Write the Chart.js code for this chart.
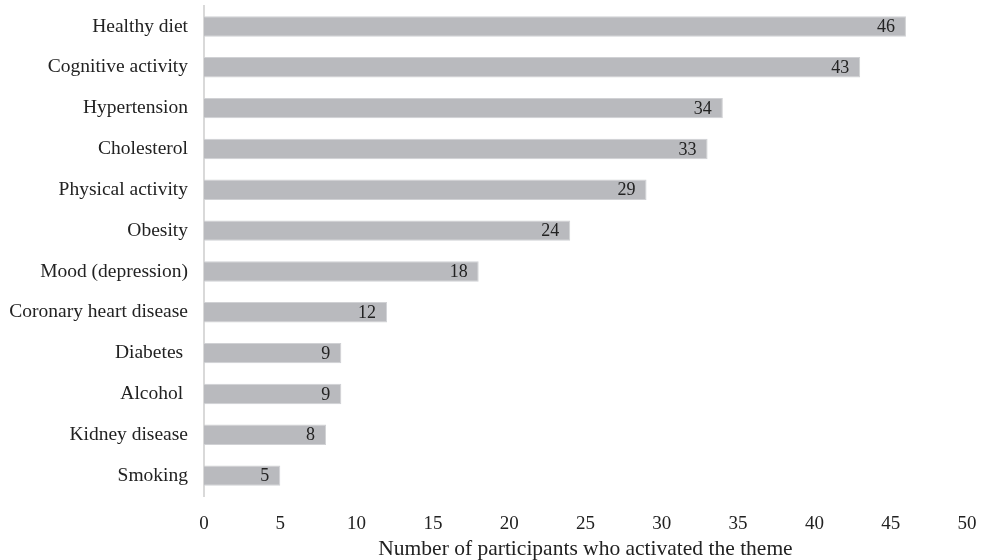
<!DOCTYPE html>
<html>
<head>
<meta charset="utf-8">
<script src="https://cdn.jsdelivr.net/npm/chart.js@4.4.0/dist/chart.umd.min.js"></script>
<style>
  html, body { margin: 0; padding: 0; background: #fff; }
  #wrap { width: 984px; height: 560px; }
</style>
</head>
<body>
<div id="wrap"><canvas id="themeChart" width="984" height="560"></canvas></div>
<script>
// data
var themes = ['Healthy diet', 'Cognitive activity', 'Hypertension', 'Cholesterol', 'Physical activity',
    'Obesity', 'Mood (depression)', 'Coronary heart disease', 'Diabetes ', 'Alcohol ', 'Kidney disease', 'Smoking'];
var participants = [46, 43, 34, 33, 29, 24, 18, 12, 9, 9, 8, 5];
var xTicks = [0, 5, 10, 15, 20, 25, 30, 35, 40, 45, 50];
var xTitle = 'Number of participants who activated the theme';

var serif = "'Liberation Serif', 'Times New Roman', serif";

// value labels at the inside end of each bar
var barLabels = {
    id: 'barLabels',
    afterDatasetsDraw: function (chart) {
        var ctx = chart.ctx;
        var meta = chart.getDatasetMeta(0);
        ctx.save();
        ctx.font = '18px ' + serif;
        ctx.fillStyle = '#222222';
        ctx.textAlign = 'right';
        ctx.textBaseline = 'middle';
        meta.data.forEach(function (bar, i) {
            ctx.fillText(String(participants[i]), bar.x - 11, bar.y + 1);
        });
        ctx.restore();
    }
};

document.addEventListener('DOMContentLoaded', function () {
    var ctx = document.getElementById('themeChart').getContext('2d');
    new Chart(ctx, {
        type: 'bar',
        data: {
            labels: themes,
            datasets: [{
                data: participants,
                backgroundColor: '#b9babe',
                borderColor: '#d0d1d4',
                borderWidth: 1,
                categoryPercentage: 1,
                barPercentage: 0.5
            }]
        },
        options: {
            indexAxis: 'y',
            responsive: false,
            animation: false,
            devicePixelRatio: 1,
            layout: { padding: { top: 6, right: 17, left: 0, bottom: 0 } },
            plugins: {
                legend: { display: false },
                tooltip: { enabled: false }
            },
            scales: {
                x: {
                    min: 0,
                    max: 50,
                    afterBuildTicks: function (scale) {
                        scale.ticks = xTicks.map(function (v) { return { value: v }; });
                    },
                    afterFit: function (scale) {
                        scale.height = 64;
                        scale.paddingLeft = 0;
                        scale.paddingRight = 0;
                    },
                    grid: { display: false, drawTicks: false },
                    border: { display: false },
                    ticks: {
                        color: '#222222',
                        font: { family: serif, size: 19 },
                        padding: 17,
                        maxRotation: 0
                    },
                    title: {
                        display: true,
                        text: xTitle,
                        color: '#222222',
                        font: { family: serif, size: 21.5 },
                        padding: { top: 4, bottom: -2 }
                    }
                },
                y: {
                    afterFit: function (scale) {
                        scale.width = 204;
                        scale.paddingTop = 0;
                        scale.paddingBottom = 0;
                    },
                    grid: { display: false, drawTicks: false },
                    border: { display: true, color: '#d9d9d9', width: 2 },
                    ticks: {
                        color: '#222222',
                        font: { family: serif, size: 19.5 },
                        padding: 16,
                        autoSkip: false
                    }
                }
            }
        },
        plugins: [barLabels]
    });
});
</script>
</body>
</html>
